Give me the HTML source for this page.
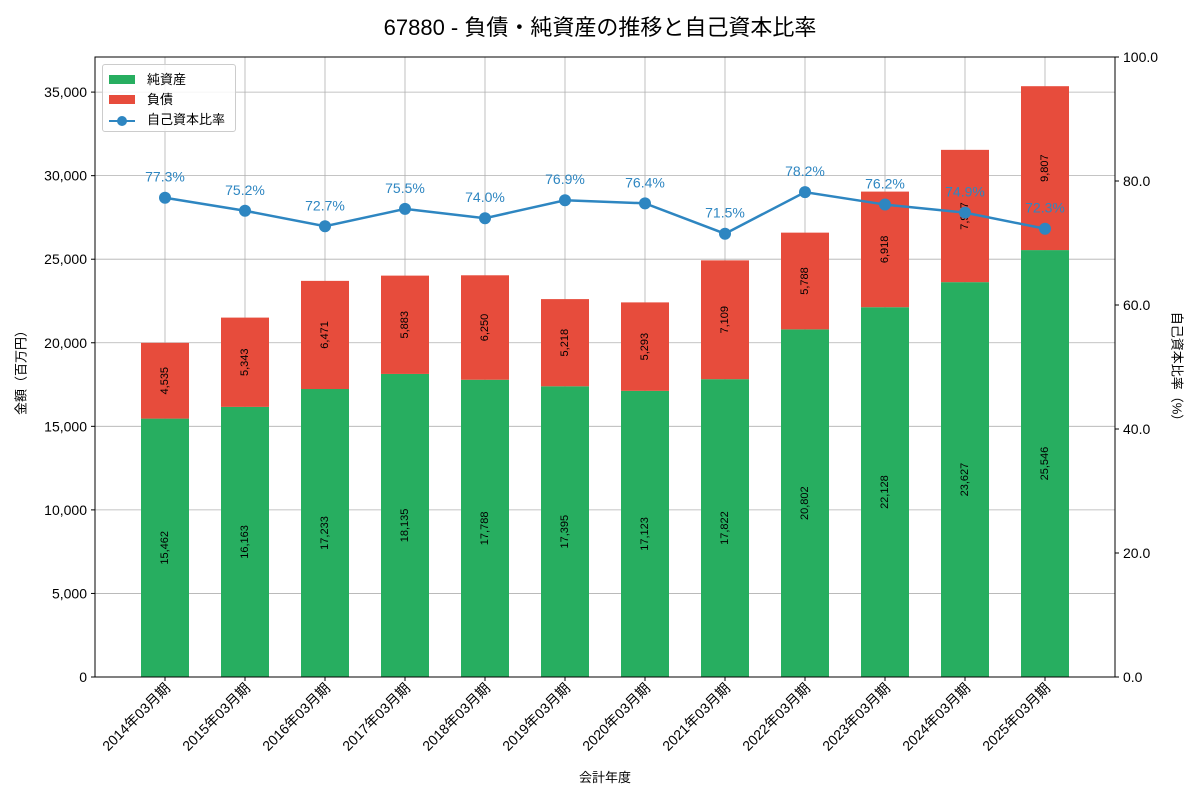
<!DOCTYPE html>
<html><head><meta charset="utf-8"><style>
html,body{margin:0;background:#fff;width:1200px;height:800px;overflow:hidden;}
svg{font-family:"Liberation Sans","Noto Sans CJK JP",sans-serif;display:block;}
</style></head><body>
<svg id="c" width="1200" height="800" xmlns="http://www.w3.org/2000/svg"></svg>
<script>
const categories=["2014年03月期","2015年03月期","2016年03月期","2017年03月期","2018年03月期","2019年03月期","2020年03月期","2021年03月期","2022年03月期","2023年03月期","2024年03月期","2025年03月期"];
const equity=[15462,16163,17233,18135,17788,17395,17123,17822,20802,22128,23627,25546];
const liabilities=[4535,5343,6471,5883,6250,5218,5293,7109,5788,6918,7917,9807];
const ratio=[77.3,75.2,72.7,75.5,74.0,76.9,76.4,71.5,78.2,76.2,74.9,72.3];
const leftTicks=[0,5000,10000,15000,20000,25000,30000,35000];
const rightTicks=[0,20,40,60,80,100];

const NS="http://www.w3.org/2000/svg";
const svg=document.getElementById('c');
const L=95,R=1115,T=57,B=677,LMAX=37100;
const y=v=>B-(v/LMAX)*(B-T);
const yr=v=>B-(v/100)*(B-T);
const x=i=>165+80*i;
function el(tag,attrs,parent){const e=document.createElementNS(NS,tag);for(const k in attrs)e.setAttribute(k,attrs[k]);(parent||svg).appendChild(e);return e;}
const fmt=v=>v.toLocaleString('en-US');

const grid=el('g',{});


leftTicks.forEach(v=>el('line',{x1:L,x2:R,y1:y(v),y2:y(v),stroke:'#b0b0b0','stroke-width':0.8},grid));
categories.forEach((c,i)=>el('line',{x1:x(i),x2:x(i),y1:T,y2:B,stroke:'#b0b0b0','stroke-width':0.8},grid));

categories.forEach((c,i)=>{
  const g=el('g',{});
  
  
  const e=equity[i],l=liabilities[i];
  el('rect',{x:x(i)-24,y:y(e),width:48,height:B-y(e),fill:'#27ae60'},g);
  el('rect',{x:x(i)-24,y:y(e+l),width:48,height:y(e)-y(e+l),fill:'#e74c3c'},g);
  const t1=el('text',{x:0,y:0,'font-size':11,'text-anchor':'middle','dominant-baseline':'central',transform:`translate(${x(i)},${y(e/2)}) rotate(-90)`},g);t1.textContent=fmt(e);
  const t2=el('text',{x:0,y:0,'font-size':11,'text-anchor':'middle','dominant-baseline':'central',transform:`translate(${x(i)},${y(e+l/2)}) rotate(-90)`},g);t2.textContent=fmt(l);
});

const lg=el('g',{});


el('polyline',{points:ratio.map((r,i)=>x(i)+','+yr(r)).join(' '),fill:'none',stroke:'#2e86c1','stroke-width':2.5},lg);
ratio.forEach((r,i)=>{
  el('circle',{cx:x(i),cy:yr(r),r:6,fill:'#2e86c1'},lg);
  const t=el('text',{x:x(i),y:yr(r)-16,'font-size':14,fill:'#2e86c1','text-anchor':'middle'},lg);t.textContent=r.toFixed(1)+'%';
});

el('rect',{x:L,y:T,width:R-L,height:B-T,fill:'none',stroke:'#000','stroke-width':1});

leftTicks.forEach(v=>{
  el('line',{x1:L-4,x2:L,y1:y(v),y2:y(v),stroke:'#000'});
  const t=el('text',{x:L-8,y:y(v)+5,'font-size':14,'text-anchor':'end'});t.textContent=fmt(v);
});
rightTicks.forEach(v=>{
  el('line',{x1:R,x2:R+4,y1:yr(v),y2:yr(v),stroke:'#000'});
  const t=el('text',{x:R+8,y:yr(v)+5,'font-size':14});t.textContent=v.toFixed(1);
});
categories.forEach((c,i)=>{
  el('line',{x1:x(i),x2:x(i),y1:B,y2:B+4,stroke:'#000'});
  const t=el('text',{x:0,y:0,'font-size':14,'text-anchor':'end',transform:`translate(${x(i)+6},${B+12}) rotate(-45)`});
  
  
  t.textContent=c;
});
</script>
<div style="position:absolute;left:0;top:0;width:1200px;height:800px;pointer-events:none;font-family:'Liberation Sans','Noto Sans CJK JP',sans-serif;">
  <div style="position:absolute;top:10px;left:0;width:1200px;text-align:center;font-size:22px;">67880 - 負債・純資産の推移と自己資本比率</div>
  <div style="position:absolute;top:767px;left:0;width:1210px;text-align:center;font-size:13px;">会計年度</div>
  <div style="position:absolute;left:-30px;top:360px;width:100px;text-align:center;font-size:13px;transform:rotate(-90deg);">金額（百万円）</div>
  <div style="position:absolute;left:1118px;top:360px;width:120px;text-align:center;font-size:13px;transform:rotate(90deg);">自己資本比率（%）</div>
  <div style="position:absolute;left:102px;top:64px;width:132px;height:66px;border:1px solid #ccc;border-radius:3px;background:rgba(255,255,255,0.85);font-size:13px;">
    <div style="position:absolute;left:6px;top:4px;"><span style="display:inline-block;width:26px;height:9px;background:#27ae60;margin-right:12px;"></span>純資産</div>
    <div style="position:absolute;left:6px;top:24px;"><span style="display:inline-block;width:26px;height:9px;background:#e74c3c;margin-right:12px;"></span>負債</div>
    <div style="position:absolute;left:6px;top:44px;"><span style="display:inline-block;width:26px;height:2px;background:#2e86c1;margin-right:12px;vertical-align:middle;position:relative;"><span style="position:absolute;left:8px;top:-4px;width:10px;height:10px;border-radius:50%;background:#2e86c1;"></span></span>自己資本比率</div>
  </div>
</div>
</body></html>
